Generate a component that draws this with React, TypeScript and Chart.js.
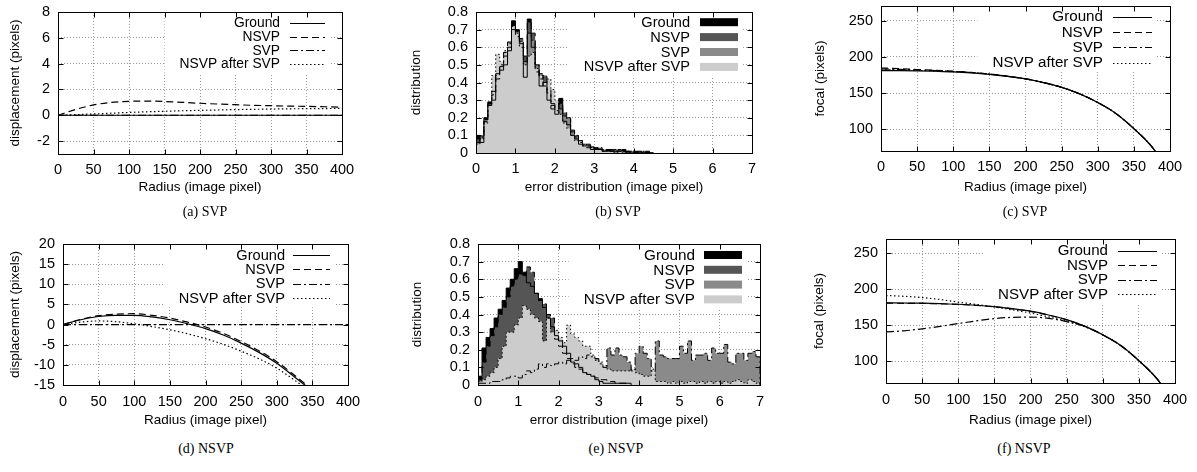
import React, { useEffect, useRef } from 'react';
import { Chart, registerables } from 'chart.js';

Chart.register(...registerables);

const FONT = '"Liberation Sans", Arial, Helvetica, sans-serif';
const SERIF = '"Liberation Serif", "Times New Roman", serif';
Chart.defaults.font.family = FONT;
Chart.defaults.font.size = 13.5;
Chart.defaults.color = '#000';

const SERIES_NAMES = ['Ground', 'NSVP', 'SVP', 'NSVP after SVP'];
const LINE_DASHES = [[], [7, 4], [8, 3, 2, 3], [1.5, 2.5]];
const FILL_COLORS = ['#000000', '#555555', '#8a8a8a', '#cccccc'];

// tick labels
const RADIUS_TICKS = [0, 50, 100, 150, 200, 250, 300, 350, 400];
const ERROR_TICKS = [0, 1, 2, 3, 4, 5, 6, 7];
const DISP_TICKS_A = [-2, 0, 2, 4, 6, 8];
const DISP_TICKS_D = [-15, -10, -5, 0, 5, 10, 15, 20];
const DIST_TICKS = [0, 0.1, 0.2, 0.3, 0.4, 0.5, 0.6, 0.7, 0.8];
const FOCAL_TICKS = [100, 150, 200, 250];

// x samples
const RADIUS_FULL = [0, 25, 50, 75, 100, 125, 150, 175, 200, 225, 250, 275, 300, 325, 350, 375, 400];
const RADIUS_D = [0, 25, 50, 75, 100, 125, 150, 175, 200, 225, 250, 275, 300, 325, 350];
const RADIUS_F = [0, 25, 50, 75, 100, 125, 150, 175, 200, 225, 250, 275, 300, 325, 350, 375, 385];
const BIN_EDGES = [
  0, 0.1, 0.2, 0.3, 0.4, 0.5, 0.6, 0.7, 0.8, 0.9,
  1, 1.1, 1.2, 1.3, 1.4, 1.5, 1.6, 1.7, 1.8, 1.9,
  2, 2.1, 2.2, 2.3, 2.4, 2.5, 2.6, 2.7, 2.8, 2.9,
  3, 3.1, 3.2, 3.3, 3.4, 3.5, 3.6, 3.7, 3.8, 3.9,
  4, 4.1, 4.2, 4.3, 4.4, 4.5, 4.6, 4.7, 4.8, 4.9,
  5, 5.1, 5.2, 5.3, 5.4, 5.5, 5.6, 5.7, 5.8, 5.9,
  6, 6.1, 6.2, 6.3, 6.4, 6.5, 6.6, 6.7, 6.8, 6.9, 7,
];

// (a) displacement, SVP
const A_GROUND = [0, 0, 0, 0, 0, 0, 0, 0, 0, 0, 0, 0, 0, 0, 0, 0, 0];
const A_NSVP = [0, 0.45, 0.8, 1.0, 1.08, 1.1, 1.07, 1.0, 0.93, 0.87, 0.82, 0.77, 0.74, 0.71, 0.69, 0.66, 0.63];
const A_SVP = [0, 0, 0, 0, 0, 0, 0, 0, 0, 0, 0, 0, 0, 0, 0, 0, 0];
const A_AFTER = [0, 0.05, 0.1, 0.16, 0.22, 0.27, 0.31, 0.35, 0.38, 0.41, 0.44, 0.46, 0.48, 0.5, 0.51, 0.52, 0.53];

// (d) displacement, NSVP
const D_GROUND = [0, 1.2, 2.0, 2.3, 2.3, 1.9, 1.2, 0.2, -1.0, -2.6, -4.6, -6.9, -9.6, -13.0, -16.5];
const D_NSVP = [0, 1.3, 2.2, 2.6, 2.7, 2.3, 1.6, 0.6, -0.6, -2.2, -4.2, -6.5, -9.2, -12.6, -16.2];
const D_SVP = [0, 0, 0, 0, 0, 0, 0, 0, 0, 0, 0, 0, 0, 0, 0, 0, 0];
const D_AFTER = [0, 0.6, 0.9, 0.7, 0.2, -0.5, -1.3, -2.3, -3.5, -4.9, -6.6, -8.5, -10.8, -13.8, -17.0];

// (c) focal, SVP
const C_GROUND = [181.0, 180.9, 180.6, 180.0, 179.2, 177.8, 175.8, 173.0, 169.5, 164.3, 157.8, 148.8, 136.8, 121.8, 100.8, 75.8, 61.8];
const C_NSVP = [184.5, 183.6, 182.4, 181.3, 180.0, 178.4, 176.2, 173.2, 169.6, 164.4, 157.9, 148.9, 136.9, 121.9, 100.9, 75.9, 61.9];
const C_SVP = [183.2, 182.6, 181.7, 180.8, 179.7, 178.2, 176.0, 173.1, 169.5, 164.3, 157.8, 148.8, 136.8, 121.8, 100.8, 75.8, 61.8];
const C_AFTER = [182.0, 181.7, 181.2, 180.4, 179.4, 178.0, 175.9, 173.0, 169.5, 164.3, 157.8, 148.8, 136.8, 121.8, 100.8, 75.8, 61.8];

// (f) focal, NSVP
const F_GROUND = [181.3, 181.1, 180.8, 180.2, 179.4, 178.0, 176.0, 173.2, 169.7, 164.5, 158.0, 149.0, 137.0, 122.0, 101.0, 76.0, 62.0];
const F_NSVP = [180.8, 180.7, 180.5, 180.0, 179.2, 177.8, 175.8, 173.0, 169.5, 164.3, 157.8, 148.8, 136.8, 121.8, 100.8, 75.8, 61.8];
const F_SVP = [141.0, 142.5, 145.2, 148.6, 152.5, 156.3, 159.5, 161.2, 161.6, 159.8, 155.2, 148.6, 137.0, 122.0, 101.0, 76.0, 62.0];
const F_AFTER = [191.5, 190.4, 188.7, 185.9, 182.4, 179.0, 175.6, 171.6, 167.2, 161.8, 155.6, 148.2, 136.8, 121.8, 100.8, 75.8, 61.8];

// (b) error distribution, SVP (bins of 0.1 from 0)
const B_GROUND = [0.10, 0.06, 0.20, 0.29, 0.30, 0.45, 0.47, 0.50, 0.58, 0.75,
  0.70, 0.62, 0.43, 0.76, 0.60, 0.50, 0.38, 0.40, 0.30, 0.28,
  0.22, 0.31, 0.18, 0.16, 0.10, 0.08, 0.05, 0.04, 0.04, 0.02,
  0.03, 0.02, 0.01, 0.02, 0.01, 0.01, 0.01, 0.02, 0.01, 0.00,
  0.01, 0.01, 0.00, 0.01, 0.00];
const B_NSVP = [0.08, 0.10, 0.18, 0.28, 0.33, 0.44, 0.50, 0.57, 0.60, 0.72,
  0.66, 0.65, 0.55, 0.74, 0.68, 0.46, 0.42, 0.44, 0.34, 0.27,
  0.25, 0.28, 0.23, 0.19, 0.12, 0.10, 0.06, 0.05, 0.03, 0.04,
  0.02, 0.03, 0.01, 0.01, 0.02, 0.01, 0.02, 0.01, 0.01, 0.01,
  0.00, 0.01, 0.00, 0.00, 0.00];
const B_SVP = [0.06, 0.09, 0.19, 0.27, 0.35, 0.42, 0.49, 0.55, 0.63, 0.70,
  0.69, 0.60, 0.52, 0.68, 0.64, 0.50, 0.45, 0.38, 0.36, 0.25,
  0.24, 0.25, 0.21, 0.20, 0.13, 0.09, 0.07, 0.04, 0.05, 0.03,
  0.02, 0.02, 0.02, 0.01, 0.01, 0.02, 0.01, 0.01, 0.00, 0.01,
  0.00, 0.00, 0.01, 0.00, 0.00];
const B_AFTER = [0.05, 0.08, 0.17, 0.27, 0.44, 0.56, 0.52, 0.58, 0.62, 0.72,
  0.68, 0.63, 0.50, 0.55, 0.57, 0.48, 0.44, 0.40, 0.42, 0.36,
  0.30, 0.22, 0.17, 0.14, 0.10, 0.07, 0.07, 0.05, 0.04, 0.03,
  0.02, 0.02, 0.01, 0.01, 0.01, 0.00, 0.01, 0.00, 0.00, 0.00,
  0.00, 0.00, 0.00, 0.00, 0.00];

// (e) error distribution, NSVP
const E_GROUND = [0.05, 0.21, 0.27, 0.32, 0.38, 0.43, 0.48, 0.55, 0.60, 0.66,
  0.70, 0.64, 0.58, 0.56, 0.52, 0.49, 0.44, 0.38, 0.33, 0.28,
  0.25, 0.22, 0.18, 0.13, 0.12, 0.10, 0.07, 0.06, 0.05, 0.03,
  0.02, 0.01, 0.01, 0.01, 0.01, 0.01, 0.01, 0.01];
const E_NSVP = [0.03, 0.13, 0.22, 0.28, 0.33, 0.40, 0.44, 0.50, 0.56, 0.60,
  0.63, 0.62, 0.67, 0.64, 0.52, 0.48, 0.46, 0.40, 0.38, 0.26,
  0.22, 0.18, 0.15, 0.12, 0.10, 0.09, 0.07, 0.06, 0.05, 0.04,
  0.03, 0.03, 0.02, 0.02, 0.01, 0.01, 0.01];
const E_SVP = [0.01, 0.01, 0.01, 0.02, 0.02, 0.02, 0.03, 0.04, 0.05, 0.05,
  0.04, 0.06, 0.08, 0.07, 0.09, 0.12, 0.10, 0.12, 0.11, 0.12,
  0.13, 0.12, 0.14, 0.15, 0.14, 0.16, 0.15, 0.17, 0.16, 0.15,
  0.12, 0.10, 0.21, 0.17, 0.21, 0.17, 0.16, 0.13, 0.08, 0.18,
  0.22, 0.18, 0.15, 0.08, 0.25, 0.17, 0.16, 0.15, 0.15, 0.15,
  0.22, 0.18, 0.25, 0.14, 0.17, 0.17, 0.18, 0.14, 0.21, 0.18,
  0.18, 0.23, 0.13, 0.12, 0.18, 0.18, 0.14, 0.18, 0.19, 0.16];
const E_AFTER = [0.02, 0.03, 0.05, 0.07, 0.10, 0.15, 0.22, 0.30, 0.30, 0.34,
  0.38, 0.45, 0.43, 0.40, 0.38, 0.36, 0.25, 0.38, 0.30, 0.31,
  0.27, 0.24, 0.34, 0.29, 0.27, 0.25, 0.22, 0.22, 0.17, 0.14,
  0.13, 0.11, 0.09, 0.08, 0.08, 0.08, 0.08, 0.08, 0.09, 0.07,
  0.06, 0.05, 0.05, 0.09, 0.02, 0.02, 0.02, 0.01, 0.02, 0.01,
  0.02, 0.01, 0.02, 0.02, 0.01, 0.02, 0.01, 0.02, 0.01, 0.02,
  0.01, 0.02, 0.01, 0.02, 0.03, 0.02, 0.01, 0.03, 0.02, 0.01];

type Geo = {
  left: number; top: number; width: number; height: number;
  yW: number; padTop: number; padRight: number; xH: number;
  yTitlePad: number; xTitlePad: number; xTickPad: number;
};
type LegendCfg = {
  font: number; textRight: number; sampleStart: number; sampleEnd: number;
  top: number; dy: number;
};
type Spec = {
  geo: Geo;
  hist: boolean;
  series: { xs: number[]; ys: number[] }[];
  xMin: number; xMax: number; yMin: number; yMax: number;
  xTicks: number[]; yTicks: number[];
  xTitle: string; yTitle: string;
  legend: LegendCfg;
};

function lineDatasets(series: Spec['series']) {
  return series.map((s, i) => ({
    label: SERIES_NAMES[i],
    data: s.ys.map((y, j) => ({ x: s.xs[j], y })),
    borderColor: '#000',
    borderWidth: 1.2,
    borderDash: LINE_DASHES[i],
    pointRadius: 0,
    fill: false,
    cubicInterpolationMode: 'monotone' as const,
    order: 4 - i,
  }));
}

function histDatasets(series: Spec['series']) {
  const pts = (ys: number[]) => [
    ...ys.map((y, j) => ({ x: BIN_EDGES[j], y })),
    { x: BIN_EDGES[ys.length], y: 0 },
  ];
  const fills = series.map((s, i) => ({
    label: SERIES_NAMES[i] + ' fill',
    data: pts(s.ys),
    stepped: true,
    borderColor: 'rgba(0,0,0,0)',
    borderWidth: 1,
    backgroundColor: FILL_COLORS[i],
    fill: 'origin',
    pointRadius: 0,
    order: 20 - i,
  }));
  const outlines = series.map((s, i) => ({
    label: SERIES_NAMES[i],
    data: pts(s.ys),
    stepped: true,
    borderColor: '#000',
    borderWidth: 1,
    borderDash: LINE_DASHES[i],
    fill: false,
    pointRadius: 0,
    order: 10 - i,
  }));
  return [...fills, ...outlines];
}

function gnuplotPlugin(spec: Spec) {
  const lg = spec.legend;
  const n = SERIES_NAMES.length;
  return {
    id: 'gnuplotLook',
    beforeDatasetsDraw(chart: any) {
      const { ctx, chartArea: a } = chart;
      ctx.save();
      ctx.font = `${lg.font}px ${FONT}`;
      const maxW = Math.max(...SERIES_NAMES.map((t) => ctx.measureText(t).width));
      const x0 = a.right + lg.textRight - maxW - 15;
      const x1 = a.right + lg.sampleEnd + 5;
      const yEnd = a.top + lg.top + lg.dy * (n - 1) + 9;
      ctx.fillStyle = '#fff';
      ctx.fillRect(x0, a.top + 1, x1 - x0, yEnd - a.top - 1);
      ctx.restore();
    },
    afterDatasetsDraw(chart: any) {
      const { ctx, chartArea: a, scales } = chart;
      ctx.save();
      // legend
      ctx.font = `${lg.font}px ${FONT}`;
      ctx.textAlign = 'right';
      ctx.textBaseline = 'middle';
      SERIES_NAMES.forEach((name, i) => {
        const y = a.top + lg.top + lg.dy * i;
        ctx.fillStyle = '#000';
        ctx.fillText(name, a.right + lg.textRight, y + 0.5);
        const s0 = a.right + lg.sampleStart;
        const s1 = a.right + lg.sampleEnd;
        if (spec.hist) {
          ctx.fillStyle = FILL_COLORS[i];
          ctx.fillRect(s0, y - 4, s1 - s0, 8);
        } else {
          ctx.strokeStyle = '#000';
          ctx.lineWidth = 1.2;
          ctx.setLineDash(LINE_DASHES[i]);
          ctx.beginPath();
          ctx.moveTo(s0, Math.round(y) + 0.5);
          ctx.lineTo(s1, Math.round(y) + 0.5);
          ctx.stroke();
          ctx.setLineDash([]);
        }
      });
      // frame
      ctx.strokeStyle = '#000';
      ctx.lineWidth = 1;
      ctx.setLineDash([]);
      const L = Math.round(a.left) + 0.5, R = Math.round(a.right) + 0.5;
      const T = Math.round(a.top) + 0.5, B = Math.round(a.bottom) + 0.5;
      ctx.strokeRect(L, T, R - L, B - T);
      // inward tick marks
      const tl = 5;
      ctx.beginPath();
      scales.x.ticks.forEach((t: any) => {
        const px = Math.round(scales.x.getPixelForValue(t.value)) + 0.5;
        ctx.moveTo(px, B); ctx.lineTo(px, B - tl);
        ctx.moveTo(px, T); ctx.lineTo(px, T + tl);
      });
      scales.y.ticks.forEach((t: any) => {
        const py = Math.round(scales.y.getPixelForValue(t.value)) + 0.5;
        ctx.moveTo(L, py); ctx.lineTo(L + tl, py);
        ctx.moveTo(R, py); ctx.lineTo(R - tl, py);
      });
      ctx.stroke();
      ctx.restore();
    },
  };
}

function buildConfig(spec: Spec): any {
  const g = spec.geo;
  const grid = { color: '#9a9a9a', lineWidth: 1, drawTicks: false };
  const border = { display: false, dash: [1, 2] };
  const tickFont = { size: 14.5, family: FONT };
  const titleFont = { size: 13.5, family: FONT };
  return {
    type: 'line',
    data: { datasets: spec.hist ? histDatasets(spec.series) : lineDatasets(spec.series) },
    options: {
      animation: false,
      responsive: false,
      events: [],
      layout: { padding: { left: 0, top: g.padTop, right: g.padRight, bottom: 0 } },
      plugins: { legend: { display: false }, tooltip: { enabled: false } },
      scales: {
        x: {
          type: 'linear',
          min: spec.xMin,
          max: spec.xMax,
          afterBuildTicks: (s: any) => { s.ticks = spec.xTicks.map((v) => ({ value: v })); },
          afterFit: (s: any) => { s.height = g.xH; },
          grid,
          border,
          ticks: { padding: g.xTickPad, color: '#000', font: tickFont, maxRotation: 0, autoSkip: false, callback: (v: any) => String(v) },
          title: { display: true, text: spec.xTitle, color: '#000', font: titleFont, padding: { top: 0, bottom: g.xTitlePad } },
        },
        y: {
          type: 'linear',
          min: spec.yMin,
          max: spec.yMax,
          afterBuildTicks: (s: any) => { s.ticks = spec.yTicks.map((v) => ({ value: v })); },
          afterFit: (s: any) => { s.width = g.yW; },
          grid,
          border,
          ticks: { padding: 8, color: '#000', font: tickFont, autoSkip: false, callback: (v: any) => String(v) },
          title: { display: true, text: spec.yTitle, color: '#000', font: titleFont, padding: { top: g.yTitlePad, bottom: 0 } },
        },
      },
    },
    plugins: [gnuplotPlugin(spec)],
  };
}

function Panel({ spec }: { spec: Spec }) {
  const ref = useRef<HTMLCanvasElement>(null);
  useEffect(() => {
    const chart = new Chart(ref.current as HTMLCanvasElement, buildConfig(spec));
    return () => chart.destroy();
  }, []);
  const g = spec.geo;
  return (
    <canvas
      ref={ref}
      width={g.width}
      height={g.height}
      style={{ position: 'absolute', left: g.left, top: g.top, width: g.width, height: g.height }}
    />
  );
}

const PANELS: Spec[] = [
  {
    geo: { left: 0, top: -12, width: 390, height: 212, yW: 58, padTop: 24, padRight: 48, xH: 46, yTitlePad: 6.9, xTitlePad: 4.9, xTickPad: 7 },
    hist: false,
    series: [
      { xs: RADIUS_FULL, ys: A_GROUND }, { xs: RADIUS_FULL, ys: A_NSVP },
      { xs: RADIUS_FULL, ys: A_SVP }, { xs: RADIUS_FULL, ys: A_AFTER },
    ],
    xMin: 0, xMax: 400, yMin: -3, yMax: 8, xTicks: RADIUS_TICKS, yTicks: DISP_TICKS_A,
    xTitle: 'Radius (image pixel)', yTitle: 'displacement (pixels)',
    legend: { font: 13.8, textRight: -62, sampleStart: -52, sampleEnd: -17, top: 10.7, dy: 13.8 },
  },
  {
    geo: { left: 400, top: -12, width: 390, height: 212, yW: 76, padTop: 24, padRight: 38, xH: 47, yTitlePad: 7.9, xTitlePad: 4.9, xTickPad: 7 },
    hist: true,
    series: [
      { xs: BIN_EDGES, ys: B_GROUND }, { xs: BIN_EDGES, ys: B_NSVP },
      { xs: BIN_EDGES, ys: B_SVP }, { xs: BIN_EDGES, ys: B_AFTER },
    ],
    xMin: 0, xMax: 7, yMin: 0, yMax: 0.8, xTicks: ERROR_TICKS, yTicks: DIST_TICKS,
    xTitle: 'error distribution (image pixel)', yTitle: 'distribution',
    legend: { font: 14.6, textRight: -62, sampleStart: -52, sampleEnd: -14, top: 10.2, dy: 14.9 },
  },
  {
    geo: { left: 800, top: -12, width: 405, height: 212, yW: 81, padTop: 18, padRight: 35, xH: 49, yTitlePad: 11.9, xTitlePad: 4.9, xTickPad: 7 },
    hist: false,
    series: [
      { xs: RADIUS_F, ys: C_GROUND }, { xs: RADIUS_F, ys: C_NSVP },
      { xs: RADIUS_F, ys: C_SVP }, { xs: RADIUS_F, ys: C_AFTER },
    ],
    xMin: 0, xMax: 400, yMin: 70, yMax: 270, xTicks: RADIUS_TICKS, yTicks: FOCAL_TICKS,
    xTitle: 'Radius (image pixel)', yTitle: 'focal (pixels)',
    legend: { font: 15.2, textRight: -67, sampleStart: -57, sampleEnd: -18, top: 10.7, dy: 15.3 },
  },
  {
    geo: { left: 0, top: 220, width: 390, height: 220, yW: 63, padTop: 24, padRight: 42, xH: 55, yTitlePad: 6.9, xTitlePad: 11.9, xTickPad: 8 },
    hist: false,
    series: [
      { xs: RADIUS_D, ys: D_GROUND }, { xs: RADIUS_D, ys: D_NSVP },
      { xs: RADIUS_FULL, ys: D_SVP }, { xs: RADIUS_D, ys: D_AFTER },
    ],
    xMin: 0, xMax: 400, yMin: -15, yMax: 20, xTicks: RADIUS_TICKS, yTicks: DISP_TICKS_D,
    xTitle: 'Radius (image pixel)', yTitle: 'displacement (pixels)',
    legend: { font: 14.6, textRight: -63, sampleStart: -55, sampleEnd: -18, top: 11, dy: 14.4 },
  },
  {
    geo: { left: 400, top: 220, width: 390, height: 220, yW: 78, padTop: 24, padRight: 30, xH: 55, yTitlePad: 9.4, xTitlePad: 11.9, xTickPad: 8 },
    hist: true,
    series: [
      { xs: BIN_EDGES, ys: E_GROUND }, { xs: BIN_EDGES, ys: E_NSVP },
      { xs: BIN_EDGES, ys: E_SVP }, { xs: BIN_EDGES, ys: E_AFTER },
    ],
    xMin: 0, xMax: 7, yMin: 0, yMax: 0.8, xTicks: ERROR_TICKS, yTicks: DIST_TICKS,
    xTitle: 'error distribution (image pixel)', yTitle: 'distribution',
    legend: { font: 15.3, textRight: -65, sampleStart: -56, sampleEnd: -18, top: 11, dy: 14.8 },
  },
  {
    geo: { left: 800, top: 220, width: 405, height: 220, yW: 86, padTop: 19, padRight: 30, xH: 57, yTitlePad: 11, xTitlePad: 11.9, xTickPad: 8 },
    hist: false,
    series: [
      { xs: RADIUS_F, ys: F_GROUND }, { xs: RADIUS_F, ys: F_NSVP },
      { xs: RADIUS_F, ys: F_SVP }, { xs: RADIUS_F, ys: F_AFTER },
    ],
    xMin: 0, xMax: 400, yMin: 70, yMax: 270, xTicks: RADIUS_TICKS, yTicks: FOCAL_TICKS,
    xTitle: 'Radius (image pixel)', yTitle: 'focal (pixels)',
    legend: { font: 15.1, textRight: -67, sampleStart: -57, sampleEnd: -18, top: 11.7, dy: 14.4 },
  },
];

const CAPTIONS = [
  { text: '(a) SVP', x: 205, y: 212 },
  { text: '(b) SVP', x: 618, y: 212 },
  { text: '(c) SVP', x: 1025, y: 212 },
  { text: '(d) NSVP', x: 206, y: 449 },
  { text: '(e) NSVP', x: 616, y: 449 },
  { text: '(f) NSVP', x: 1024, y: 449 },
];

export default function App() {
  return (
    <div style={{ position: 'absolute', left: 0, top: 0, width: 1197, height: 472, background: '#fff', overflow: 'hidden' }}>
      {PANELS.map((p, i) => <Panel key={i} spec={p} />)}
      {CAPTIONS.map((c) => (
        <div
          key={c.text}
          style={{
            position: 'absolute', left: c.x - 100, top: c.y - 9, width: 200, height: 18,
            lineHeight: '18px', textAlign: 'center', fontFamily: SERIF, fontSize: 14, color: '#000',
          }}
        >
          {c.text}
        </div>
      ))}
    </div>
  );
}
